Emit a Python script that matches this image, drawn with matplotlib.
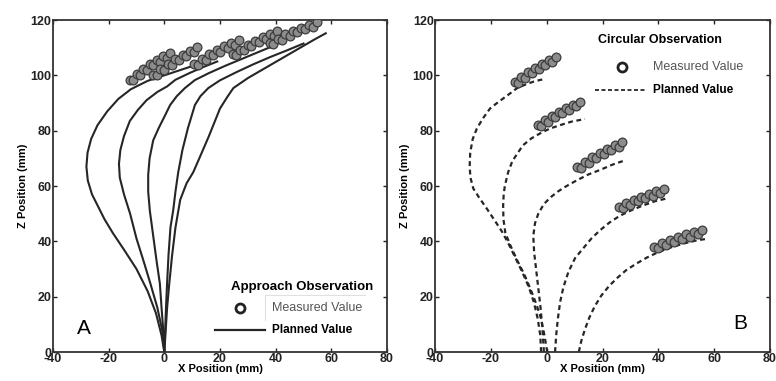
import matplotlib
matplotlib.use("Agg")
import matplotlib.pyplot as plt

plt.rcParams['font.family'] = ['Liberation Sans', 'DejaVu Sans']
plt.rcParams['axes.unicode_minus'] = False

# ---------------- Panel A: Approach observation ----------------
a_plan_x = [
    [0, -1, -3, -6, -10, -14.5, -18.5, -21.5, -23.5, -26, -27.5, -28, -27.6, -26.3, -24, -20.5, -16.5, -12, -6, 0, 6, 12],
    [0, -0.8, -2.5, -5, -7.5, -10, -12.3, -14.5, -16, -16.3, -15.8, -14.5, -12.4, -9.5, -6.4, -2.5, 1, 4, 9, 14, 19],
    [0, -0.4, -1, -1.6, -2.8, -4, -5.2, -5.8, -5.8, -5.3, -4, -2, 0, 2.1, 4.5, 7.4, 11, 16, 22, 28, 34, 40],
    [0, 0.3, 0.6, 1, 1.5, 2.2, 3.2, 4, 5, 6.5, 8.5, 11, 13, 15.8, 20, 26, 32, 38, 44, 50],
    [0, 0.5, 1, 1.8, 2.8, 4, 5.7, 8, 10.4, 13, 16, 18.8, 20, 22.5, 24.8, 30, 36, 42, 48, 54, 58],
]
a_plan_z = [
    [0, 6, 14, 22, 30, 37, 43, 48, 52, 57, 62, 67, 72, 77, 82, 87, 91.5, 95, 98, 100, 102, 104],
    [0, 8, 16, 24.7, 33, 41, 50, 57, 63, 68, 73, 78, 83.5, 87.5, 91, 94, 96, 98.4, 100.8, 103, 105],
    [0, 8, 16, 24.7, 33, 42, 51, 58, 64, 70, 76.5, 81, 85, 89.3, 92.5, 95.4, 98.3, 100.8, 103.5, 106, 108.5, 111],
    [0, 8, 16, 25, 35, 45, 51.3, 58, 65, 73, 81, 89.3, 92.5, 95.4, 98.2, 101.2, 104, 106.6, 109, 111.5],
    [0, 8, 16, 25, 35, 45, 55, 61, 65, 71, 78, 85, 88, 92, 95.4, 99, 102.5, 106, 109.5, 113, 115.2],
]
a_meas_x = [
    [-12.3, -11.1, -9.9, -8.7, -7.5, -6.3, -5.2, -4.0, -2.8, -1.6, -0.4, 0.8, 2.0],
    [-4.0, -2.7, -1.4, 0.0, 1.3, 2.6, 3.9, 5.3, 6.6, 7.9, 9.2, 10.5, 11.8],
    [10.8, 12.1, 13.5, 14.8, 16.1, 17.5, 18.8, 20.1, 21.5, 22.8, 24.1, 25.5, 26.8],
    [24.6, 25.9, 27.3, 28.6, 29.9, 31.3, 32.6, 33.9, 35.3, 36.6, 37.9, 39.3, 40.6],
    [37.8, 39.2, 40.7, 42.1, 43.5, 45.0, 46.4, 47.8, 49.2, 50.6, 52.1, 53.5, 54.9],
]
a_meas_z = [
    [98.4, 98.2, 100.4, 100.2, 102.3, 102.0, 104.0, 103.6, 105.5, 105.0, 106.9, 106.3, 108.1],
    [100.1, 100.0, 102.2, 102.0, 104.1, 103.8, 105.9, 105.5, 107.4, 107.0, 108.9, 108.3, 110.1],
    [104.1, 103.8, 105.9, 105.6, 107.6, 107.2, 109.1, 108.6, 110.5, 109.9, 111.7, 111.1, 112.8],
    [107.6, 107.3, 109.3, 109.0, 111.0, 110.5, 112.4, 111.9, 113.8, 113.2, 115.0, 114.3, 116.0],
    [111.8, 111.4, 113.3, 112.9, 114.8, 114.2, 116.1, 115.5, 117.2, 116.6, 118.3, 117.6, 119.2],
]

# ---------------- Panel B: Circular observation ----------------
b_plan_x = [
    [-2, -2.3, -3.2, -4.6, -6.4, -8.8, -11.2, -13.6, -16, -18.6, -21.5, -24.2, -26.3, -27.3, -27.6, -27.4, -26.5, -25, -22.8, -20.3, -17.8, -15.5, -12.8, -10.7, -7.8, -4.8, -2.5, -0.6],
    [0.2, -0.8, -2, -3.6, -5.5, -8, -10.5, -13, -14.8, -15.5, -15.6, -15.4, -15, -13.8, -12.3, -10, -8.4, -5.5, -2.4, 1, 4.8, 9, 13.7],
    [-1, -1.5, -2.2, -3, -3.8, -4.5, -4.8, -4.2, -3, -1, 1.5, 4, 6.8, 10.7, 15, 19.1, 23.5, 28.4],
    [3, 3.4, 4, 4.8, 6, 7.8, 10.2, 13.1, 16, 19.1, 22.5, 26.3, 30.5, 34.6, 38.8, 43],
    [11.5, 12.4, 13.7, 15.3, 17.2, 19.5, 22.3, 25.3, 28.5, 32.2, 36, 40.2, 44.5, 49, 53.5, 57.9],
]
b_plan_z = [
    [0, 6, 12, 18, 23.5, 29, 34, 39, 43.5, 47.5, 51.9, 55.8, 59.1, 63, 67, 72, 77, 80.8, 84.5, 88, 90, 91.7, 93.7, 95.3, 96.6, 97.7, 98.3, 98.7],
    [0, 6, 12, 17, 22, 28, 33, 38.5, 43, 48, 53, 57, 60, 65, 69, 72.5, 74.8, 77.2, 79, 80.7, 82, 83.3, 84.2],
    [0, 8, 16, 23, 30, 36, 42, 46.5, 50, 53.5, 56, 58, 59.8, 62, 64.2, 65.8, 67.7, 69.4],
    [0, 6, 12, 18, 23.5, 29, 34, 37.5, 41, 44, 46.8, 49.3, 51.3, 53, 54.5, 55.5],
    [0, 4, 8.2, 12.5, 16.5, 20.3, 23.8, 26.8, 29.6, 32, 34.2, 36.2, 37.8, 39.2, 40.3, 41],
]
b_meas_x = [
    [-11.5, -10.3, -9.1, -7.8, -6.6, -5.4, -4.2, -2.9, -1.7, -0.5, 0.8, 2.0, 3.2],
    [-3.2, -1.9, -0.7, 0.6, 1.8, 3.1, 4.4, 5.6, 6.9, 8.1, 9.4, 10.6, 11.9],
    [10.9, 12.3, 13.6, 15.0, 16.3, 17.7, 19.0, 20.4, 21.7, 23.1, 24.4, 25.8, 27.1],
    [25.8, 27.2, 28.5, 29.9, 31.2, 32.6, 33.9, 35.3, 36.6, 38.0, 39.3, 40.7, 42.0],
    [38.6, 40.0, 41.4, 42.9, 44.3, 45.7, 47.2, 48.6, 50.0, 51.4, 52.8, 54.3, 55.7],
]
b_meas_z = [
    [97.6, 97.4, 99.5, 99.2, 101.2, 100.8, 102.8, 102.3, 104.2, 103.7, 105.5, 104.9, 106.6],
    [81.9, 81.6, 83.7, 83.3, 85.3, 84.9, 86.8, 86.3, 88.2, 87.6, 89.4, 88.8, 90.5],
    [66.8, 66.6, 68.7, 68.4, 70.4, 70.0, 72.0, 71.5, 73.4, 72.9, 74.7, 74.1, 75.8],
    [52.4, 51.9, 53.8, 53.2, 55.0, 54.4, 56.1, 55.5, 57.2, 56.4, 58.1, 57.3, 58.9],
    [38.1, 37.5, 39.3, 38.7, 40.5, 39.8, 41.6, 40.8, 42.5, 41.7, 43.4, 42.5, 44.1],
]

x_ticks = [-40, -20, 0, 20, 40, 60, 80]
z_ticks = [0, 20, 40, 60, 80, 100, 120]
x_label = "X Position (mm)"
z_label = "Z Position (mm)"

fig = plt.figure(figsize=(7.76, 3.81), dpi=100)
axA = fig.add_axes([0.0683, 0.0761, 0.4304, 0.8714])
axB = fig.add_axes([0.5606, 0.0761, 0.4317, 0.8714])

line_col = '#262626'
meas_kw = dict(linestyle='none', marker='o', markersize=6.3,
               markerfacecolor='#8c8c8c', markeredgecolor='#3c3c3c',
               markeredgewidth=0.9, zorder=3)

for xs, zs in zip(a_plan_x, a_plan_z):
    axA.plot(xs, zs, color=line_col, lw=1.5, zorder=2, solid_joinstyle='round')
for xs, zs in zip(a_meas_x, a_meas_z):
    axA.plot(xs, zs, **meas_kw)

for xs, zs in zip(b_plan_x, b_plan_z):
    axB.plot(xs, zs, color=line_col, lw=1.6, ls=(0, (2.2, 1.6)), zorder=2)
for xs, zs in zip(b_meas_x, b_meas_z):
    axB.plot(xs, zs, **meas_kw)

for ax in (axA, axB):
    ax.set_xlim(-40, 80)
    ax.set_ylim(0, 120)
    ax.set_xticks(x_ticks)
    ax.set_yticks(z_ticks)
    ax.tick_params(direction='in', top=True, right=True, length=3, width=1,
                   labelsize=9, pad=1.0, colors='#222222')
    for lab in ax.get_xticklabels() + ax.get_yticklabels():
        lab.set_fontweight('bold')
    for sp in ax.spines.values():
        sp.set_linewidth(1.3)
        sp.set_color('#333333')
    ax.set_xlabel(x_label, fontsize=8, fontweight='bold', labelpad=-1)
    ax.set_ylabel(z_label, fontsize=8, fontweight='bold', labelpad=2)

# Legend A (manual)
tA = axA.transAxes
axA.text(0.745, 0.196, "Approach Observation", transform=tA, ha='center', va='center',
         fontsize=9.5, fontweight='bold')
axA.plot([0.560], [0.133], transform=tA, marker='o', markersize=6.5,
         markerfacecolor='white', markeredgecolor='#222222', markeredgewidth=2, clip_on=False)
axA.text(0.656, 0.133, "Measured Value", transform=tA, ha='left', va='center',
         fontsize=9, color='#555555')
axA.plot([0.635, 0.935], [0.171, 0.171], transform=tA, color='#e0e0e0', lw=0.8)
axA.plot([0.635, 0.635], [0.171, 0.095], transform=tA, color='#e0e0e0', lw=0.8)
axA.plot([0.485, 0.635], [0.066, 0.066], transform=tA, color=line_col, lw=1.6, clip_on=False)
axA.text(0.656, 0.066, "Planned Value", transform=tA, ha='left', va='center',
         fontsize=8.5, fontweight='bold')
axA.text(0.093, 0.072, "A", transform=tA, ha='center', va='center', fontsize=15)

# Legend B (manual)
tB = axB.transAxes
axB.text(0.672, 0.940, "Circular Observation", transform=tB, ha='center', va='center',
         fontsize=9, fontweight='bold')
axB.plot([0.558], [0.858], transform=tB, marker='o', markersize=6.5,
         markerfacecolor='white', markeredgecolor='#222222', markeredgewidth=2, clip_on=False)
axB.text(0.651, 0.858, "Measured Value", transform=tB, ha='left', va='center',
         fontsize=9, color='#555555')
axB.plot([0.478, 0.627], [0.789, 0.789], transform=tB, color=line_col, lw=1.3,
         ls=(0, (2.2, 1.4)))
axB.text(0.651, 0.789, "Planned Value", transform=tB, ha='left', va='center',
         fontsize=8.5, fontweight='bold')
axB.text(0.910, 0.087, "B", transform=tB, ha='center', va='center', fontsize=15)

fig.savefig("out.png", dpi=100)
